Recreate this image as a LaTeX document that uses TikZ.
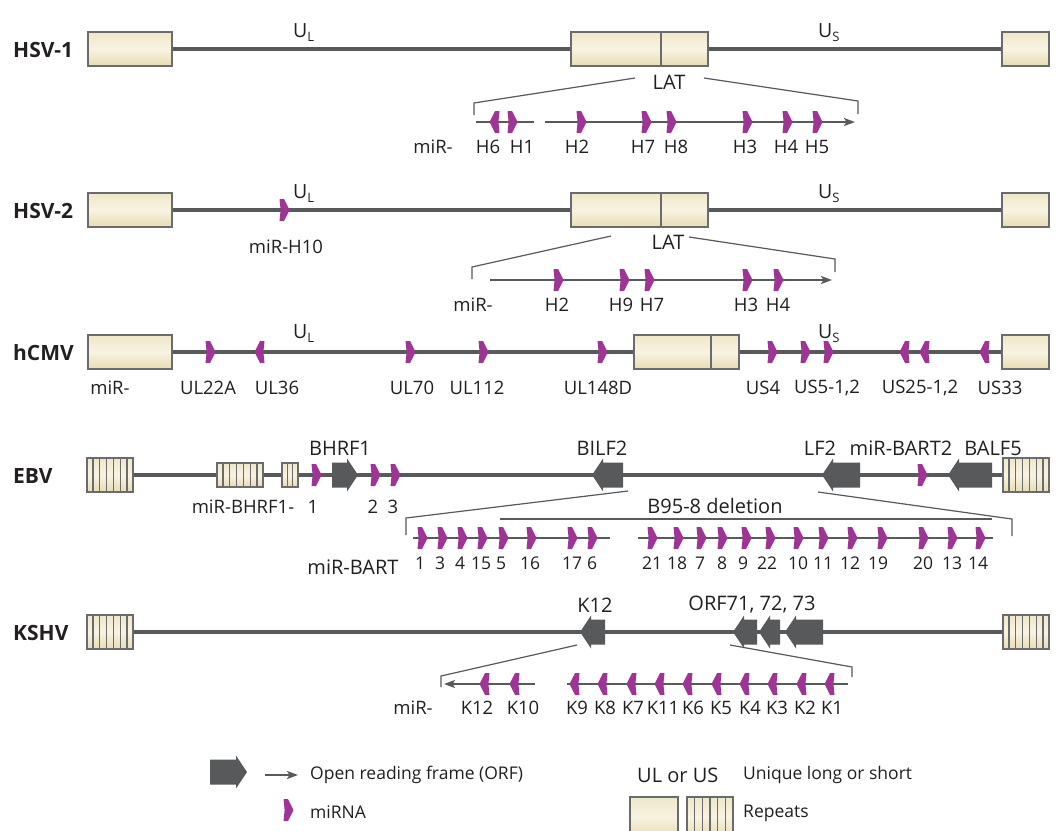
\documentclass[tikz,border=0pt]{standalone}
\usepackage{fontspec}
\setmainfont{Open Sans}
\usetikzlibrary{shadings,arrows.meta,calc}
\definecolor{gl}{HTML}{58595B}
\definecolor{mirc}{HTML}{9E3594}
\definecolor{cr1}{HTML}{F8F3E2}
\definecolor{cr2}{HTML}{E8DCB3}
\definecolor{txt}{HTML}{231F20}
\definecolor{bx}{HTML}{6A6B6D}
\tikzset{
 gline/.style={draw=gl, line width=4.8pt},
 ubox/.style={draw=bx, line width=1.6pt, top color=cr2!70, bottom color=cr2, middle color=cr1, inner sep=0pt, minimum height=34pt},
 divl/.style={draw=bx, line width=1.6pt},
 brk/.style={draw=gl, line width=1.2pt},
 mirl/.style={draw=gl, line width=1.8pt},
 arr/.style={-{Stealth[length=11pt,width=8pt,inset=2.5pt]}},
 sm/.style={font=\fontsize{18.5}{20}\selectfont, text=txt, inner sep=0pt},
 bg/.style={font=\fontsize{20}{22}\selectfont, text=txt, inner sep=0pt},
 num/.style={font=\fontsize{17.5}{19}\selectfont, text=txt, inner sep=0pt},
 leg/.style={font=\fontsize{17.5}{19}\selectfont, text=txt, inner sep=0pt, anchor=west},
 vir/.style={font=\bfseries\fontsize{21}{23}\selectfont, text=txt, inner sep=0pt, anchor=west},
 mR/.pic={\fill[mirc] (-4.5,-11) -- (0,-11) -- (5.5,0) -- (0,11) -- (-4.5,11) -- (-3.4,0) -- cycle;},
 mL/.pic={\fill[mirc] (4.5,-11) -- (0,-11) -- (-5.5,0) -- (0,11) -- (4.5,11) -- (3.4,0) -- cycle;},
}
% repeat box: name, cx, cy, w, h, cells
\newcommand\repbox[6]{%
 \node[ubox,minimum width=#4pt,minimum height=#5pt] (#1) at (#2,#3) {};
 \pgfmathtruncatemacro\nn{#6-1}%
 \foreach \k in {1,...,\nn}{\draw[bx,line width=1.1pt] ($(#1.north west)!\k/#6!(#1.north east)$) -- ($(#1.south west)!\k/#6!(#1.south east)$);}%
}
% ORFs: tail x, tip x, y
\newcommand\orfR[3]{\fill[gl] (#1,#3-12.5) -- (#2-11,#3-12.5) -- (#2-11,#3-16.5) -- (#2,#3) -- (#2-11,#3+16.5) -- (#2-11,#3+12.5) -- (#1,#3+12.5) -- cycle;}
\newcommand\orfL[3]{\fill[gl] (#1,#3-12.5) -- (#2+11,#3-12.5) -- (#2+11,#3-16.5) -- (#2,#3) -- (#2+11,#3+16.5) -- (#2+11,#3+12.5) -- (#1,#3+12.5) -- cycle;}
\newcommand\UL{{\fontsize{19.5}{20}\selectfont U}{\fontsize{13}{14}\selectfont\raisebox{-4pt}{L}}}
\newcommand\US{{\fontsize{19.5}{20}\selectfont U}{\fontsize{13}{14}\selectfont\raisebox{-4pt}{S}}}
\begin{document}
\begin{tikzpicture}[x=1pt,y=-1pt]
\useasboundingbox (0,0) rectangle (1059,830);
\fill[white] (0,0) rectangle (1059,830);

% ================= HSV-1 =================
\node[vir] (l1) at (13,50) {HSV-1};
\node[ubox,minimum width=84pt] (h1a) at (130,49) {};
\node[ubox,minimum width=137pt] (h1b) at (639.5,49) {};
\node[ubox,minimum width=47pt] (h1c) at (1025.5,49) {};
\draw[divl] (661,32) -- (661,66);
\draw[gline] (h1a.east) -- (h1b.west) (h1b.east) -- (h1c.west);
\node[inner sep=0pt,text=txt,anchor=base west] (u1l) at (293,37) {\UL};
\node[inner sep=0pt,text=txt,anchor=base west] (u1s) at (818,37) {\US};
\node[bg] (lat1) at (669,82) {LAT};
\draw[brk] (474,115) -- (474,103) -- (635,78);
\draw[brk] (704,78) -- (858,101) -- (858,114);
\draw[mirl] (476,122) -- (534,122);
\draw[mirl,arr] (545,122) -- (855,122);
\pic at (495,122) {mL};
\pic at (512,122) {mR};
\foreach \x in {581,646,671,747,787,817} \pic at (\x,122) {mR};
\node[sm] at (433,147) {miR-};
\foreach \x/\t in {488/H6,522/H1,577/H2,643/H7,676/H8,745/H3,786/H4,817/H5} \node[sm] at (\x,147) {\t};

% ================= HSV-2 =================
\node[vir] (l2) at (13,211) {HSV-2};
\node[ubox,minimum width=84pt] (h2a) at (130,210) {};
\node[ubox,minimum width=137pt] (h2b) at (639.5,210) {};
\node[ubox,minimum width=47pt] (h2c) at (1025.5,210) {};
\draw[divl] (661,193) -- (661,227);
\draw[gline] (h2a.east) -- (h2b.west) (h2b.east) -- (h2c.west);
\node[inner sep=0pt,text=txt,anchor=base west] (u2l) at (293,198) {\UL};
\node[inner sep=0pt,text=txt,anchor=base west] (u2s) at (818,198) {\US};
\pic at (284,210) {mR};
\node[sm] at (286,247) {miR-H10};
\node[bg] (lat2) at (668,242) {LAT};
\draw[brk] (472,279) -- (472,267) -- (611,236);
\draw[brk] (689,237) -- (835,259) -- (835,272);
\draw[mirl,arr] (490,280) -- (832,280);
\foreach \x in {558,624,649,747,778} \pic at (\x,280) {mR};
\node[sm] at (473,305) {miR-};
\foreach \x/\t in {557/H2,621/H9,652/H7,746/H3,778/H4} \node[sm] at (\x,305) {\t};

% ================= hCMV =================
\node[vir] (l3) at (13,353) {hCMV};
\node[ubox,minimum width=84pt] (h3a) at (130,352) {};
\node[ubox,minimum width=105pt] (h3b) at (686.5,352) {};
\node[ubox,minimum width=47pt] (h3c) at (1025.5,352) {};
\draw[divl] (711,335) -- (711,369);
\draw[gline] (h3a.east) -- (h3b.west) (h3b.east) -- (h3c.west);
\node[inner sep=0pt,text=txt,anchor=base west] (u3l) at (293,338) {\UL};
\node[inner sep=0pt,text=txt,anchor=base west] (u3s) at (818,338) {\US};
\foreach \x in {210,410,483,602,772,805,828} \pic at (\x,352) {mR};
\foreach \x in {260,905,925,985} \pic at (\x,352) {mL};
\foreach \x/\t in {110/miR-,208/UL22A,277/UL36,412/UL70,477/UL112,598/UL148D,763/US4,827/{US5-1,2},920/{US25-1,2},1000/US33} \node[sm] at (\x,388) {\t};

% ================= EBV =================
\node[vir] (l4) at (13,476) {EBV};
\repbox{e1}{110}{475}{46}{34}{7}
\repbox{e2}{240}{475}{46}{24}{7}
\repbox{e3}{290}{475}{16}{24}{3}
\repbox{e4}{1026}{475}{46}{34}{7}
\draw[gline] (e1.east) -- (e2.west) (e2.east) -- (e3.west) (e3.east) -- (e4.west);
\orfR{332}{358}{475}
\orfL{623}{592}{475}
\orfL{860}{822}{475}
\orfL{992}{948}{475}
\foreach \x in {316,375,395,922} \pic at (\x,475) {mR};
\node[bg] at (340,448) {BHRF1};
\node[bg] at (602,448) {BILF2};
\node[bg] at (820,448) {LF2};
\node[bg] at (901,448) {miR-BART2};
\node[bg] at (993,448) {BALF5};
\node[sm] at (243,507) {miR-BHRF1-};
\foreach \x/\t in {313/1,373/2,393/3} \node[sm] at (\x,507) {\t};
\draw[brk] (406,535) -- (406,518) -- (628,491);
\draw[brk] (818,492) -- (1012,519) -- (1012,536);
\draw[brk] (500,519) -- (992,519);
\node[bg] at (715,506) {B95-8 deletion};
\draw[mirl] (413,538) -- (610,538);
\draw[mirl] (638,538) -- (993,538);
\foreach \x in {422,442,462,482,503,531,572,592,652,678,701,722,746,770,798,823,852,882,923,952,980} \pic at (\x,538) {mR};
\node[bg] at (353,567) {miR-BART};
\foreach \x/\t in {420/1,440/3,460/4,481/15,501/5,530/16,572/17,592/6,652/21,677/18,700/7,722/8,743/9,767/22,798/10,823/11,850/12,878/19,923/20,952/13,978/14} \node[num] at (\x,563) {\t};

% ================= KSHV =================
\node[vir] (l5) at (13,633) {KSHV};
\repbox{k1}{110}{632}{46}{34}{7}
\repbox{k2}{1026}{632}{46}{34}{7}
\draw[gline] (k1.east) -- (k2.west);
\orfL{605}{580}{632}
\orfL{757}{733}{632}
\orfL{780}{759}{632}
\orfL{823}{785}{632}
\node[bg] at (595,605) {K12};
\node[bg] at (752,605) {ORF71, 72, 73};
\draw[brk] (441,687) -- (441,676) -- (577,645);
\draw[brk] (730,645) -- (852,667) -- (852,677);
\draw[mirl,arr] (535,684) -- (444,684);
\draw[mirl] (567,684) -- (848,684);
\foreach \x in {485,515,575,603,632,660,688,717,745,773,802,830} \pic at (\x,684) {mL};
\foreach \x/\t in {413/miR-,477/K12,523/K10,577/K9,605/K8,633/K7,663/K11,693/K6,721/K5,750/K4,777/K3,805/K2,832/K1} \node[sm] at (\x,708) {\t};

% ================= Legend =================
\orfR{210}{247}{772}
\draw[mirl,arr] (265,775) -- (298,775);
\node[leg] at (310,775) {Open reading frame (ORF)};
\pic at (288,810) {mR};
\node[leg] at (310,812) {miRNA};
\node[bg,anchor=west] at (637,775) {UL or US};
\node[leg] at (743,775) {Unique long or short};
\node[ubox,minimum width=48pt,minimum height=40pt] (lg1) at (654,817) {};
\repbox{lg2}{710}{817}{46}{40}{6}
\node[leg] at (743,813) {Repeats};
\end{tikzpicture}
\end{document}
